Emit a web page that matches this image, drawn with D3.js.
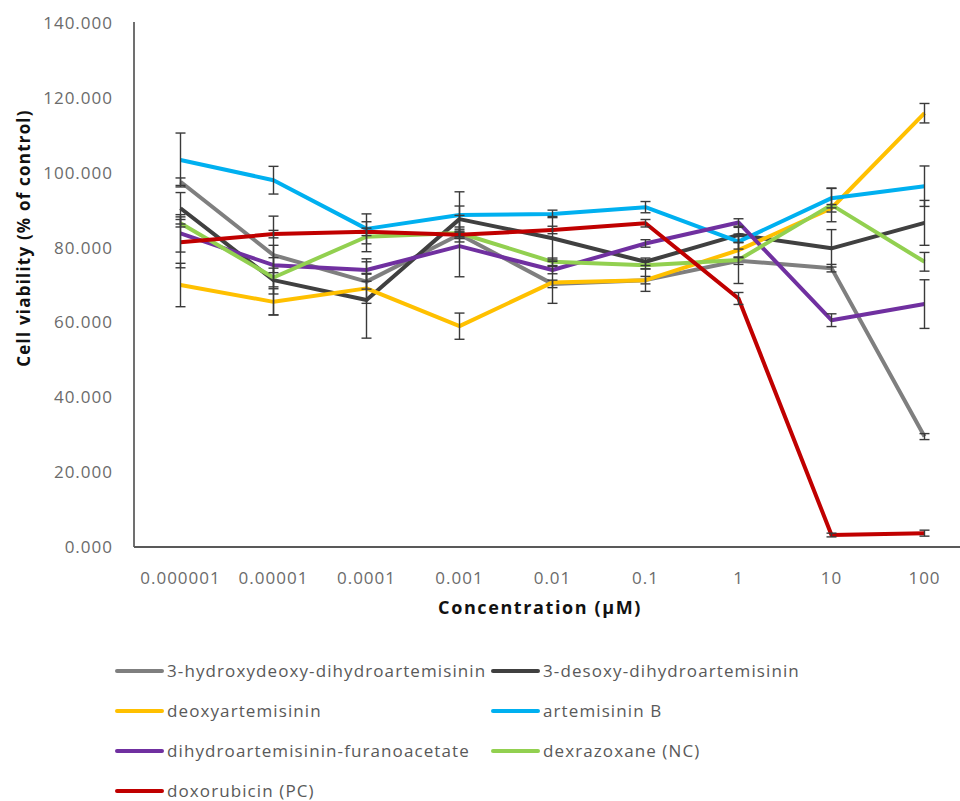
<!DOCTYPE html>
<html lang="en">
<head>
    <meta charset="UTF-8">
    <title>cell viability</title>
    <script src="https://d3js.org/d3.v7.min.js"></script>
    <style>
        body { margin: 0; background: #fff; }
        text { font-family: "Open Sans", sans-serif; }
    </style>
</head>
<body>
<svg id="chart" width="960" height="801"></svg>
<script>
    // concentrations (uM)
    const concentrations = ['0.000001','0.00001','0.0001','0.001','0.01','0.1','1','10','100'];
    const yTicks = [0,20,40,60,80,100,120,140];

    const seriesNames = ['3-hydroxydeoxy-dihydroartemisinin','3-desoxy-dihydroartemisinin','deoxyartemisinin',
        'artemisinin B','dihydroartemisinin-furanoacetate','dexrazoxane (NC)','doxorubicin (PC)'];
    const seriesColors = ['#7f7f7f','#404040','#ffc000','#00b0f0','#7030a0','#92d050','#c00000'];

    const hydroxydeoxy = [97.6, 78.0, 70.9, 83.5, 70.3, 71.3, 76.5, 74.5, 29.5];
    const desoxy       = [90.5, 71.3, 66.0, 87.6, 82.5, 76.2, 83.4, 79.8, 86.6];
    const deoxyart     = [70.0, 65.5, 69.1, 59.0, 70.7, 71.3, 79.3, 90.5, 115.9];
    const artB         = [103.4, 98.0, 85.0, 88.7, 89.0, 90.8, 81.6, 93.2, 96.4];
    const furano       = [83.8, 75.3, 74.0, 80.4, 74.0, 81.1, 86.7, 60.6, 64.9];
    const dexraz       = [86.5, 72.0, 82.9, 83.9, 76.2, 75.3, 76.7, 91.4, 76.2];
    const doxo         = [81.4, 83.6, 84.2, 83.4, 84.7, 86.5, 66.4, 3.2, 3.7];

    // standard deviations
    const hydroxydeoxySd = [1.0, 10.4, 2.0, 2.0, 1.0, 3.0, 1.0, 1.0, 0.8];
    const desoxySd       = [4.2, 9.3, 10.2, 3.5, 5.8, 1.0, 2.0, 5.0, 6.0];
    const deoxyartSd     = [5.8, 3.5, 4.0, 3.5, 5.6, 1.0, 2.0, 1.0, 2.6];
    const artBSd         = [7.2, 3.7, 4.0, 6.2, 1.0, 1.5, 2.0, 2.6, 5.4];
    const furanoSd       = [5.0, 2.0, 3.0, 8.2, 1.0, 1.0, 1.0, 1.7, 6.5];
    const dexrazSd       = [1.0, 2.5, 4.0, 1.0, 1.0, 1.0, 6.3, 4.5, 2.5];
    const doxoSd         = [6.8, 1.0, 1.0, 1.0, 1.0, 1.0, 1.6, 0.5, 0.8];

    const values = [hydroxydeoxy, desoxy, deoxyart, artB, furano, dexraz, doxo];
    const sds = [hydroxydeoxySd, desoxySd, deoxyartSd, artBSd, furanoSd, dexrazSd, doxoSd];

    const series = seriesNames.map((name, i) => ({
        name: name,
        color: seriesColors[i],
        points: concentrations.map((c, j) => ({c: c, v: values[i][j], sd: sds[i][j]}))
    }));

    const svg = d3.select('#chart');
    const plot = {left: 134, right: 971, top: 23, bottom: 547};

    const x = d3.scaleBand().domain(concentrations).range([plot.left, plot.right]);
    const y = d3.scaleLinear().domain([0, 140]).range([plot.bottom, plot.top]);
    const cx = d => x(d) + x.bandwidth() / 2;

    // y tick labels
    svg.append('g').selectAll('text').data(yTicks).join('text')
        .attr('x', 113).attr('y', d => y(d)).attr('dy', '0.35em')
        .attr('text-anchor', 'end')
        .attr('font-size', 17).attr('letter-spacing', 1)
        .attr('fill', '#6b6b6b')
        .text(d => d3.format('.3f')(d));

    // x tick labels
    svg.append('g').selectAll('text').data(concentrations).join('text')
        .attr('x', d => cx(d)).attr('y', 584)
        .attr('text-anchor', 'middle')
        .attr('font-size', 17).attr('letter-spacing', 1)
        .attr('fill', '#6b6b6b')
        .text(d => d);

    // axis titles
    svg.append('text').text('Concentration (µM)')
        .attr('x', 540).attr('y', 614)
        .attr('text-anchor', 'middle')
        .attr('font-size', 18).attr('font-weight', 'bold').attr('letter-spacing', 1.6)
        .attr('fill', '#111');
    svg.append('text').text('Cell viability (% of control)')
        .attr('transform', 'translate(30,238) rotate(-90)')
        .attr('text-anchor', 'middle')
        .attr('font-size', 17).attr('font-weight', 'bold').attr('letter-spacing', 1.2)
        .attr('fill', '#111');

    // axis lines
    svg.append('line')
        .attr('x1', plot.left).attr('x2', plot.left)
        .attr('y1', y(140) - 1).attr('y2', y(0))
        .attr('stroke', '#404040').attr('stroke-width', 1.5);
    svg.append('line')
        .attr('x1', plot.left).attr('x2', 960)
        .attr('y1', y(0)).attr('y2', y(0))
        .attr('stroke', '#595959').attr('stroke-width', 2);

    // series lines
    const line = d3.line().x(d => cx(d.c)).y(d => y(d.v));
    svg.append('g').selectAll('path').data(series).join('path')
        .attr('d', d => line(d.points))
        .attr('fill', 'none')
        .attr('stroke', d => d.color)
        .attr('stroke-width', 4)
        .attr('stroke-linejoin', 'round');

    // error bars
    const errs = series.flatMap(s => s.points);
    const eb = svg.append('g').attr('stroke', '#3a3a3a').attr('stroke-width', 1.4);
    eb.selectAll('line.v').data(errs).join('line').attr('class', 'v')
        .attr('x1', d => cx(d.c)).attr('x2', d => cx(d.c))
        .attr('y1', d => y(d.v + d.sd)).attr('y2', d => y(d.v - d.sd));
    eb.selectAll('line.top').data(errs).join('line').attr('class', 'top')
        .attr('x1', d => cx(d.c) - 5).attr('x2', d => cx(d.c) + 5)
        .attr('y1', d => y(d.v + d.sd)).attr('y2', d => y(d.v + d.sd));
    eb.selectAll('line.bot').data(errs).join('line').attr('class', 'bot')
        .attr('x1', d => cx(d.c) - 5).attr('x2', d => cx(d.c) + 5)
        .attr('y1', d => y(d.v - d.sd)).attr('y2', d => y(d.v - d.sd));

    // legend, two columns
    const legend = svg.append('g').selectAll('g').data(series).join('g')
        .attr('transform', (d, i) => `translate(${i % 2 === 0 ? 117 : 493},${671 + Math.floor(i / 2) * 40})`);
    legend.append('line')
        .attr('x1', 0).attr('x2', 45)
        .attr('stroke', d => d.color).attr('stroke-width', 4)
        .attr('stroke-linecap', 'round');
    legend.append('text')
        .attr('x', 50).attr('dy', '0.35em')
        .attr('font-size', 17).attr('letter-spacing', 1.1)
        .attr('fill', '#595959')
        .text(d => d.name);
</script>
</body>
</html>
